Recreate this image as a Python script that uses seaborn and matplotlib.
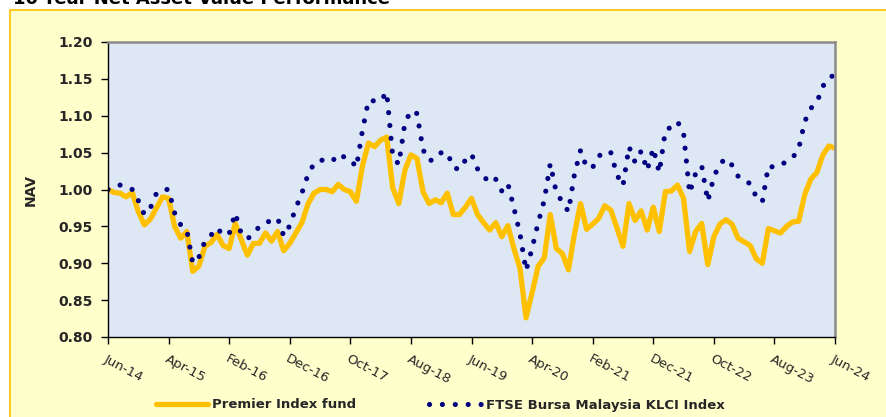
import matplotlib
matplotlib.use("Agg")
import matplotlib.pyplot as plt
import matplotlib.patches as mpatches
import numpy as np
import pandas as pd
import seaborn as sns

# ---- data -------------------------------------------------------------
tick_labels = ["Jun-14", "Apr-15", "Feb-16", "Dec-16", "Oct-17", "Aug-18", "Jun-19",
               "Apr-20", "Feb-21", "Dec-21", "Oct-22", "Aug-23", "Jun-24"]

fund = [1.000, 0.996, 0.995, 0.990, 0.996, 0.970, 0.952, 0.960, 0.975, 0.990,
        0.988, 0.950, 0.934, 0.943, 0.889, 0.896, 0.923, 0.928, 0.939, 0.924,
        0.920, 0.954, 0.932, 0.911, 0.927, 0.927, 0.941, 0.930, 0.943, 0.917,
        0.927, 0.941, 0.955, 0.980, 0.995, 1.000, 1.000, 0.997, 1.007, 1.000,
        0.997, 0.984, 1.032, 1.063, 1.058, 1.067, 1.071, 1.002, 0.981, 1.026,
        1.047, 1.042, 0.997, 0.981, 0.986, 0.982, 0.995, 0.966, 0.966, 0.976,
        0.988, 0.966, 0.955, 0.945, 0.955, 0.936, 0.951, 0.920, 0.893, 0.826,
        0.860, 0.896, 0.907, 0.966, 0.920, 0.913, 0.891, 0.940, 0.981, 0.946,
        0.953, 0.961, 0.978, 0.972, 0.948, 0.923, 0.981, 0.958, 0.971, 0.945,
        0.976, 0.943, 0.997, 0.998, 1.006, 0.988, 0.916, 0.943, 0.954, 0.898,
        0.936, 0.953, 0.959, 0.953, 0.934, 0.929, 0.924, 0.906, 0.900, 0.947,
        0.944, 0.941, 0.950, 0.956, 0.957, 0.993, 1.014, 1.023, 1.047, 1.059,
        1.056]

klci = [1.000, 1.004, 1.006, 1.004, 1.000, 0.985, 0.966, 0.975, 0.995, 1.000,
        1.000, 0.968, 0.952, 0.945, 0.900, 0.908, 0.930, 0.938, 0.948, 0.938,
        0.940, 0.968, 0.940, 0.933, 0.940, 0.950, 0.955, 0.958, 0.961, 0.937,
        0.951, 0.975, 0.995, 1.020, 1.035, 1.040, 1.039, 1.038, 1.048, 1.044,
        1.041, 1.030, 1.080, 1.121, 1.120, 1.120, 1.132, 1.045, 1.034, 1.090,
        1.107, 1.103, 1.054, 1.039, 1.041, 1.050, 1.050, 1.030, 1.027, 1.040,
        1.048, 1.028, 1.018, 1.009, 1.014, 0.998, 1.008, 0.975, 0.940, 0.890,
        0.920, 0.955, 0.985, 1.035, 0.996, 0.983, 0.970, 1.021, 1.053, 1.030,
        1.030, 1.045, 1.052, 1.050, 1.020, 1.005, 1.058, 1.037, 1.052, 1.026,
        1.056, 1.023, 1.080, 1.085, 1.092, 1.077, 0.995, 1.022, 1.032, 0.984,
        1.017, 1.035, 1.042, 1.033, 1.018, 1.012, 1.008, 0.990, 0.983, 1.032,
        1.030, 1.033, 1.038, 1.043, 1.055, 1.092, 1.110, 1.118, 1.140, 1.152,
        1.155]

series_names = ["Premier Index fund", "FTSE Bursa Malaysia KLCI Index"]

months = np.arange(len(fund))
df = pd.DataFrame({"month": months, "fund": fund, "klci": klci})

# ---- figure -----------------------------------------------------------
sns.set_theme(style="white")
plt.rcParams["font.family"] = ["DejaVu Sans"]

W, H = 886, 417
fig = plt.figure(figsize=(W / 100, H / 100), dpi=100, facecolor="white")

# outer yellow panel with golden border
panel = mpatches.Rectangle((10 / W, -0.05), 1.0, 1 - 10 / H + 0.05,
                           transform=fig.transFigure, facecolor="#FFFFCC",
                           edgecolor="#FFC000", linewidth=1.2, zorder=-5)
fig.patches.append(panel)

fig.text(13 / W, 1 - 4 / H, "10-Year Net Asset Value Performance",
         fontsize=13, fontweight="bold", color="black", va="baseline", ha="left")

ax = fig.add_axes([108 / W, 1 - 337 / H, (835 - 108) / W, (337 - 42) / H])
ax.set_zorder(1)
ax.set_facecolor("#DDE8F4")

sns.lineplot(data=df, x="month", y="fund", ax=ax, color="#FFC000",
             linewidth=3.8, label=series_names[0], solid_joinstyle="round",
             solid_capstyle="round")
sns.lineplot(data=df, x="month", y="klci", ax=ax, color="#000080",
             linewidth=3.7, label=series_names[1])
ln = ax.get_lines()[1]
ln.set_linestyle((0, (0.01, 2.5)))
ln.set_dash_capstyle("round")

ax.set_xlim(0, 120)
ax.set_ylim(0.80, 1.20)
ax.set_xticks(np.arange(0, 121, 10))
ax.set_xticklabels(tick_labels, rotation=-28, ha="left", va="top",
                   rotation_mode="anchor", fontsize=9.5)
ax.set_yticks(np.arange(0.80, 1.2001, 0.05))
ax.set_yticklabels([f"{v:.2f}" for v in np.arange(0.80, 1.2001, 0.05)],
                   fontsize=10, fontweight="bold")
ax.tick_params(axis="both", which="major", direction="out", length=5, width=1,
               color="black", bottom=True, left=True)
ax.tick_params(axis="x", pad=6)
ax.tick_params(axis="y", pad=6)
ax.set_xlabel("")
ax.set_ylabel("NAV", fontsize=10, fontweight="bold", labelpad=15)

for s in ["left", "bottom"]:
    ax.spines[s].set_color("black")
    ax.spines[s].set_linewidth(1.0)
for s in ["top", "right"]:
    ax.spines[s].set_color("#8C8C8C")
    ax.spines[s].set_linewidth(1.8)
ax.grid(False)

handles, labels = ax.get_legend_handles_labels()
ax.legend_.remove()
fig.legend(handles, labels, loc="center", bbox_to_anchor=(440 / W, 1 - 405 / H),
           ncol=2, frameon=False, handlelength=4.0, handletextpad=0.3,
           columnspacing=5.5, prop={"weight": "bold", "size": 9.5})

fig.savefig("out.png", dpi=100, facecolor="white")
